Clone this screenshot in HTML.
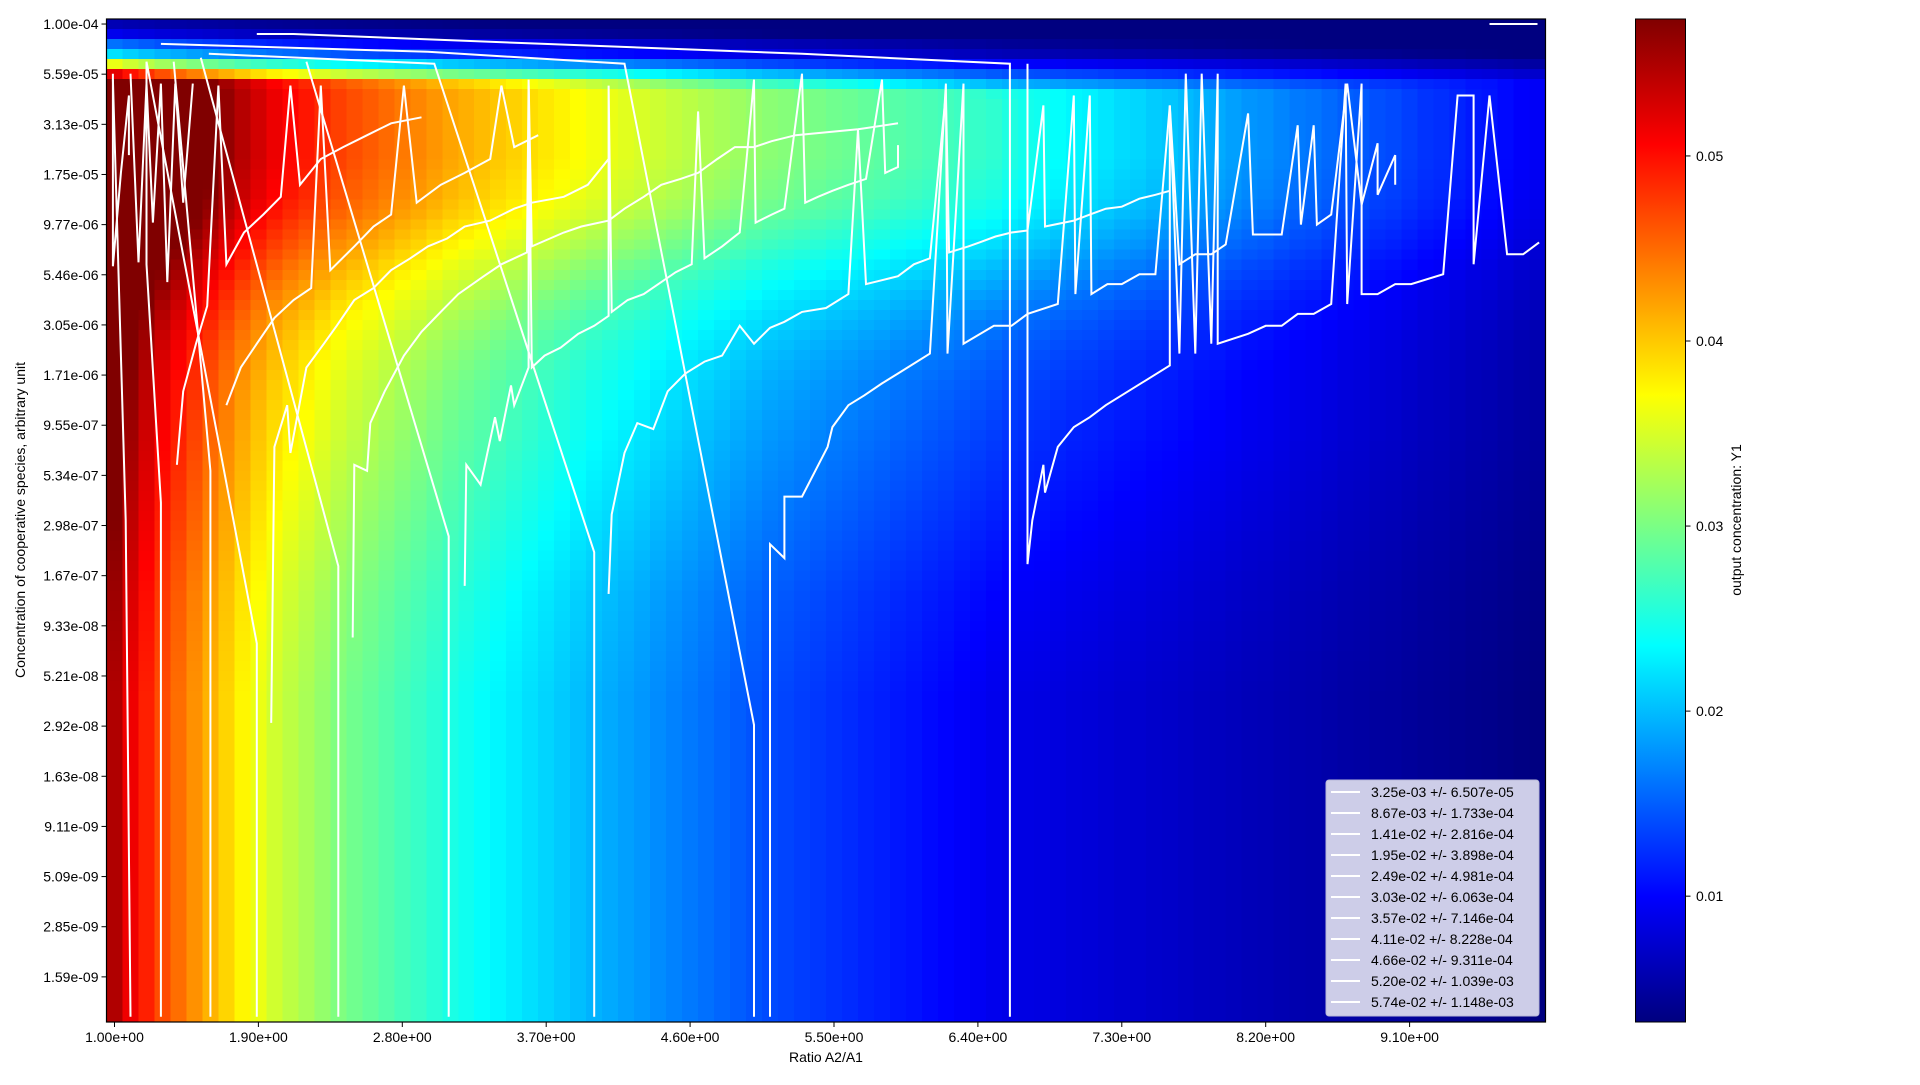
<!DOCTYPE html>
<html><head><meta charset="utf-8"><title>Heatmap</title>
<style>
html,body{margin:0;padding:0;background:#fff;}
body{width:1920px;height:1080px;overflow:hidden;font-family:"Liberation Sans","DejaVu Sans",sans-serif;}
svg text{font-family:"Liberation Sans","DejaVu Sans",sans-serif;font-size:14px;fill:#000;}
</style></head>
<body>
<svg id="chart" width="1920" height="1080" xmlns="http://www.w3.org/2000/svg">
<defs>
<linearGradient id="jetgrad" x1="0" y1="1" x2="0" y2="0"></linearGradient>
</defs>
<g id="cells" shape-rendering="crispEdges"></g>
<g id="lines" fill="none" stroke="#fff" stroke-width="2" stroke-linejoin="miter"></g>
<rect x="106.5" y="19" width="1439" height="1003" fill="none" stroke="#000" stroke-width="1.2"/>
<g id="xticks"></g>
<g id="yticks"></g>
<text x="826" y="1062" text-anchor="middle">Ratio A2/A1</text>
<text transform="translate(25,520) rotate(-90)" text-anchor="middle">Concentration of cooperative species, arbitrary unit</text>
<g id="legend"></g>
<rect x="1635.5" y="19" width="50" height="1003" fill="url(#jetgrad)" stroke="#000" stroke-width="1"/>
<g id="cbticks"></g>
<text transform="translate(1741,520) rotate(-90)" text-anchor="middle">output concentration: Y1</text>
</svg>
<script>
// ---- data ----
const colX = [1.0,1.1,1.2,1.3,1.4,1.5,1.6,1.7,1.8,1.9,2.0,2.1,2.2,2.3,2.4,2.5,2.6,2.7,2.8,2.9,3.0,3.1,3.2,3.3,3.4,3.5,3.6,3.7,3.8,3.9,4.0,4.1,4.2,4.3,4.4,4.5,4.6,4.7,4.8,4.9,5.0,5.1,5.2,5.3,5.4,5.5,5.6,5.7,5.8,5.9,6.0,6.1,6.2,6.3,6.4,6.5,6.6,6.7,6.8,6.9,7.0,7.1,7.2,7.3,7.4,7.5,7.6,7.7,7.8,7.9,8.0,8.1,8.2,8.3,8.4,8.5,8.6,8.7,8.8,8.9,9.0,9.1,9.2,9.3,9.4,9.5,9.6,9.7,9.8,9.9];
const colBase = [.0548,.0515,.0490,.0466,.0448,.0429,.0411,.0393,.0375,.0360,.0346,.0335,.0325,.0314,.0303,.0295,.0288,.0280,.0272,.0265,.0257,.0249,.0243,.0237,.0231,.0225,.0219,.0213,.0207,.0201,.0195,.0190,.0185,.0180,.0174,.0169,.0164,.0159,.0154,.0149,.0144,.0139,.0136,.0132,.0129,.0125,.0122,.0118,.0115,.0111,.0108,.0104,.0101,.0097,.0094,.0090,.0087,.0085,.0084,.0082,.0080,.0079,.0077,.0075,.0074,.0072,.0071,.0069,.0067,.0066,.0064,.0062,.0061,.0059,.0057,.0056,.0054,.0052,.0051,.0049,.0048,.0046,.0044,.0043,.0041,.0039,.0038,.0036,.0034,.0033];
const rowBoost = [.017,.017,.017,.017,.017,.017,.017,.017,.017,.017,.017,.017,.017,.017,.0168,.0165,.0162,.016,.0155,.015,.0142,.0135,.0128,.012,.0112,.0105,.0098,.0091,.0085,.0079,.0074,.0069,.0065,.0061,.0058,.0055,.0052,.005,.0048,.0046,.0044,.0042,.004,.0038,.0036,.0034,.0032,.003,.0028,.0026,.0024,.0022,.002,.0018,.0016,.0014,.0012,.001,.0009,.0008,.0007,.0006,.0005,.0004,.0003,.0002,.0001,0,0,0,0,0,0,0,0,0,0,0,0,0,0,0,0,0,0,0,0,0,0,0,0,0,0,0,0,0,0,0,0,0];
const rowCap = [.006,.009,.016,.022,.036,.052,.07,.09,.11,.13,.16];
const xTickVals = [1.0,1.9,2.8,3.7,4.6,5.5,6.4,7.3,8.2,9.1];
const xTickLabels = ["1.00e+00","1.90e+00","2.80e+00","3.70e+00","4.60e+00","5.50e+00","6.40e+00","7.30e+00","8.20e+00","9.10e+00"];
const yTickLabels = ["1.00e-04","5.59e-05","3.13e-05","1.75e-05","9.77e-06","5.46e-06","3.05e-06","1.71e-06","9.55e-07","5.34e-07","2.98e-07","1.67e-07","9.33e-08","5.21e-08","2.92e-08","1.63e-08","9.11e-09","5.09e-09","2.85e-09","1.59e-09"];
const cbTickVals = [0.01,0.02,0.03,0.04,0.05];
const legendLabels = ["3.25e-03 +/- 6.507e-05","8.67e-03 +/- 1.733e-04","1.41e-02 +/- 2.816e-04","1.95e-02 +/- 3.898e-04","2.49e-02 +/- 4.981e-04","3.03e-02 +/- 6.063e-04","3.57e-02 +/- 7.146e-04","4.11e-02 +/- 8.228e-04","4.66e-02 +/- 9.311e-04","5.20e-02 +/- 1.039e-03","5.74e-02 +/- 1.148e-03"];
// contour traces: x = ratio, y = log10(concentration); null = break
const c0x=[9.60,9.90];
const c0y=[-4.00,-4.00];
const c1x=[1.89,2.12,3.69,5.30,6.60,6.60,null,6.71,6.71,6.74,6.81,6.82,6.90,7.00,7.10,7.20,7.60,7.60,7.66,7.70,7.76,7.80,7.86,7.90,7.90,8.09,8.20,8.30,8.40,8.50,8.61,8.70,8.71,8.80,8.80,8.90,9.01,9.11,9.31,9.40,9.50,9.50,9.60,9.71,9.81,9.91];
const c1y=[-4.05,-4.05,-4.10,-4.15,-4.20,-9.00,null,-4.20,-6.72,-6.50,-6.22,-6.36,-6.13,-6.03,-5.98,-5.92,-5.72,-4.41,-5.66,-4.25,-5.66,-4.25,-5.61,-4.25,-5.61,-5.56,-5.52,-5.52,-5.46,-5.46,-5.41,-4.30,-5.41,-4.30,-5.36,-5.36,-5.31,-5.31,-5.26,-4.36,-4.36,-5.21,-4.36,-5.16,-5.16,-5.10];
const c2x=[1.29,2.96,4.19,5.00,5.00,null,5.10,5.10,5.19,5.19,5.30,5.46,5.49,5.59,5.69,5.80,5.90,6.10,6.20,6.21,6.31,6.31,6.50,6.61,6.71,6.90,7.00,7.01,7.10,7.11,7.21,7.30,7.41,7.51,7.60,7.66,7.76,7.86,7.95,8.09,8.12,8.30,8.40,8.42,8.50,8.52,8.61,8.71,8.80,8.90,8.90,9.01,9.01];
const c2y=[-4.10,-4.14,-4.20,-7.53,-9.00,null,-9.00,-6.62,-6.69,-6.38,-6.38,-6.13,-6.03,-5.92,-5.87,-5.81,-5.76,-5.66,-4.30,-5.66,-4.30,-5.61,-5.52,-5.52,-5.46,-5.41,-4.36,-5.36,-4.36,-5.36,-5.31,-5.31,-5.26,-5.26,-4.41,-5.21,-5.16,-5.16,-5.11,-4.45,-5.06,-5.06,-4.51,-5.01,-4.51,-5.01,-4.96,-4.30,-4.91,-4.60,-4.86,-4.66,-4.81];
const c3x=[1.59,3.00,4.00,4.00,null,4.09,4.11,4.19,4.27,4.37,4.46,4.57,4.69,4.80,4.91,5.00,5.10,5.19,5.30,5.45,5.59,5.65,5.70,5.80,5.90,6.00,6.10,6.20,6.22,6.34,6.41,6.51,6.61,6.71,6.81,6.82,7.00,7.10,7.20,7.30,7.41,7.51,7.60];
const c3y=[-4.15,-4.20,-6.66,-9.00,null,-6.87,-6.47,-6.16,-6.01,-6.04,-5.85,-5.76,-5.70,-5.67,-5.52,-5.61,-5.53,-5.50,-5.45,-5.43,-5.36,-4.53,-5.31,-5.29,-5.27,-5.21,-5.18,-4.35,-5.15,-5.12,-5.10,-5.07,-5.05,-5.04,-4.41,-5.02,-4.99,-4.96,-4.93,-4.92,-4.88,-4.86,-4.84];
const c4x=[2.20,3.09,3.09,null,3.19,3.20,3.29,3.38,3.41,3.48,3.50,3.59,3.59,3.61,3.69,3.79,3.90,4.00,4.09,4.09,4.11,4.21,4.31,4.42,4.51,4.61,4.65,4.69,4.80,4.91,5.00,5.01,5.11,5.19,5.30,5.32,5.40,5.49,5.59,5.70,5.80,5.82,5.90,5.90];
const c4y=[-4.19,-6.58,-9.00,null,-6.83,-6.22,-6.32,-5.98,-6.10,-5.82,-5.92,-5.73,-4.31,-5.73,-5.67,-5.63,-5.56,-5.52,-5.47,-4.31,-5.45,-5.39,-5.36,-5.30,-5.25,-5.21,-4.44,-5.18,-5.12,-5.05,-4.28,-5.00,-4.96,-4.93,-4.25,-4.90,-4.87,-4.84,-4.81,-4.78,-4.28,-4.75,-4.72,-4.61];
const c5x=[1.54,2.40,2.40,null,2.49,2.50,2.58,2.60,2.69,2.81,2.92,3.04,3.15,3.31,3.42,3.58,3.59,3.61,3.81,3.92,4.09,4.19,4.31,4.42,4.54,4.65,4.77,4.88,5.00,5.11,5.26,5.65,5.90];
const c5y=[-4.17,-6.73,-9.00,null,-7.09,-6.22,-6.25,-6.01,-5.85,-5.67,-5.55,-5.45,-5.36,-5.27,-5.21,-5.15,-4.28,-5.12,-5.05,-5.02,-4.99,-4.93,-4.87,-4.81,-4.78,-4.75,-4.68,-4.62,-4.62,-4.59,-4.56,-4.53,-4.50];
const c6x=[1.20,1.89,1.89,null,1.98,2.00,2.08,2.10,2.20,2.31,2.39,2.50,2.62,2.73,2.85,2.96,3.08,3.19,3.35,3.50,3.61,3.81,3.96,4.09];
const c6y=[-4.19,-7.12,-9.00,null,-7.52,-6.13,-5.92,-6.16,-5.73,-5.61,-5.52,-5.39,-5.33,-5.24,-5.18,-5.12,-5.08,-5.02,-4.99,-4.93,-4.90,-4.87,-4.81,-4.68];
const c7x=[1.37,1.60,1.60,null,1.70,1.79,1.89,2.00,2.12,2.23,2.29,2.35,2.50,2.62,2.73,2.81,2.89,3.04,3.19,3.35,3.42,3.50,3.65];
const c7y=[-4.19,-6.25,-9.00,null,-5.92,-5.73,-5.61,-5.48,-5.39,-5.33,-4.31,-5.24,-5.12,-5.02,-4.96,-4.31,-4.90,-4.81,-4.75,-4.68,-4.31,-4.62,-4.56];
const c8x=[1.29,1.29,1.20,1.20,null,1.39,1.43,1.51,1.58,1.65,1.70,1.81,1.93,2.04,2.10,2.16,2.29,2.43,2.58,2.73,2.92];
const c8y=[-9.00,-6.41,-5.21,-4.19,null,-6.22,-5.85,-5.61,-5.42,-4.31,-5.21,-5.05,-4.96,-4.87,-4.31,-4.81,-4.68,-4.62,-4.56,-4.50,-4.47];
const c9x=[0.99,1.07,1.10,null,1.10,1.15,1.20,1.24,1.29,1.33,1.38,1.43,1.49];
const c9y=[-4.28,-6.50,-9.00,null,-4.25,-5.20,-4.30,-5.00,-4.30,-5.30,-4.30,-4.90,-4.30];
const c10x=[0.99,0.99,1.04,1.09,1.09];
const c10y=[-4.25,-5.22,-4.75,-4.36,-4.66];

// ---- axes ----
const PL=106.5, PR=1545.5, PT=19, PB=1022;
const X0=0.95, X1=9.95, LY0=-3.9747, LY1=-9.0263;
const VMIN=0.0032, VMAX=0.0574;
function xs(x){return PL+(x-X0)/(X1-X0)*(PR-PL);}
function ys(ly){return PT+(LY0-ly)/(LY0-LY1)*(PB-PT);}
function cbY(v){return PB-(v-VMIN)/(VMAX-VMIN)*(PB-PT);}
function jet(v){
  let t=(v-VMIN)/(VMAX-VMIN); t=Math.max(0,Math.min(1,t));
  const c=a=>Math.round(255*Math.max(0,Math.min(1,a)));
  return `rgb(${c(1.5-Math.abs(4*t-3))},${c(1.5-Math.abs(4*t-2))},${c(1.5-Math.abs(4*t-1))})`;
}
const NS="http://www.w3.org/2000/svg";
function mk(tag,attrs,parent){const e=document.createElementNS(NS,tag);for(const k in attrs)e.setAttribute(k,attrs[k]);parent.appendChild(e);return e;}

// gradient
const grad=document.getElementById('jetgrad');
for(let i=0;i<=40;i++){const v=VMIN+(VMAX-VMIN)*i/40;mk('stop',{offset:(i/40),'stop-color':jet(v)},grad);}

// heatmap cells
const cells=document.getElementById('cells');
const rowStep=(LY0-LY1)/rowBoost.length;
const colStep=colX[1]-colX[0];
for(let k=0;k<rowBoost.length;k++){
  const lyTop=LY0-k*rowStep, lyBot=lyTop-rowStep;
  const y0=ys(lyTop), y1=ys(lyBot);
  for(let j=0;j<colX.length;j++){
    const w=Math.min(1,colBase[j]/0.009);
    let v=Math.min(VMAX,colBase[j]+rowBoost[k]*w);
    if(k<rowCap.length){const cap=rowCap[k]*Math.pow(colBase[j]/colBase[0],0.7);v=Math.min(v,cap);}
    const x0=xs(colX[j]-colStep/2), x1=xs(colX[j]+colStep/2);
    const r=mk('rect',{x:x0.toFixed(2),y:y0.toFixed(2),width:(x1-x0+0.6).toFixed(2),height:(y1-y0+0.6).toFixed(2),fill:jet(v)},cells);
    
    
  }
}

// contour lines
const traces=[[c0x,c0y],[c1x,c1y],[c2x,c2y],[c3x,c3y],[c4x,c4y],[c5x,c5y],[c6x,c6y],[c7x,c7y],[c8x,c8y],[c9x,c9y],[c10x,c10y]];
const lineG=document.getElementById('lines');
traces.forEach((t,idx)=>{
  let d='',pen=false;
  for(let i=0;i<t[0].length;i++){
    if(t[0][i]===null){pen=false;continue;}
    d+=(pen?'L':'M')+xs(t[0][i]).toFixed(1)+','+ys(t[1][i]).toFixed(1);pen=true;
  }
  const p=mk('path',{d:d},lineG);
  
  
});

// x ticks
const xg=document.getElementById('xticks');
xTickVals.forEach((v,i)=>{
  const x=xs(v);
  const l=mk('line',{x1:x,x2:x,y1:PB,y2:PB+5,stroke:'#000','stroke-width':1},xg);
  
  
  const t=mk('text',{x:x,y:PB+20,'text-anchor':'middle'},xg);t.textContent=xTickLabels[i];
  
  
});
// y ticks
const yg=document.getElementById('yticks');
yTickLabels.forEach((s,i)=>{
  const y=ys(-4-i*5*rowStep);
  const l=mk('line',{x1:PL-5,x2:PL,y1:y,y2:y,stroke:'#000','stroke-width':1},yg);
  
  
  const t=mk('text',{x:PL-8,y:y+5,'text-anchor':'end'},yg);t.textContent=s;
  
  
});
// colorbar ticks
const cg=document.getElementById('cbticks');
cbTickVals.forEach(v=>{
  const y=cbY(v);
  const l=mk('line',{x1:1685.5,x2:1690.5,y1:y,y2:y,stroke:'#000','stroke-width':1},cg);
  
  
  const t=mk('text',{x:1696,y:y+5},cg);t.textContent=String(v);
  
  
});
// legend
const lg=document.getElementById('legend');
const bx=mk('rect',{x:1326,y:780,width:213,height:236,rx:3,fill:'#cdcde8',stroke:'#b8b8d8','stroke-width':1},lg);


legendLabels.forEach((s,i)=>{
  const y=792+i*21;
  const l=mk('line',{x1:1331,x2:1360,y1:y,y2:y,stroke:'#fff','stroke-width':2},lg);
  
  
  const t=mk('text',{x:1371,y:y+5},lg);t.textContent=s;
  
  
});
</script>
</body></html>
